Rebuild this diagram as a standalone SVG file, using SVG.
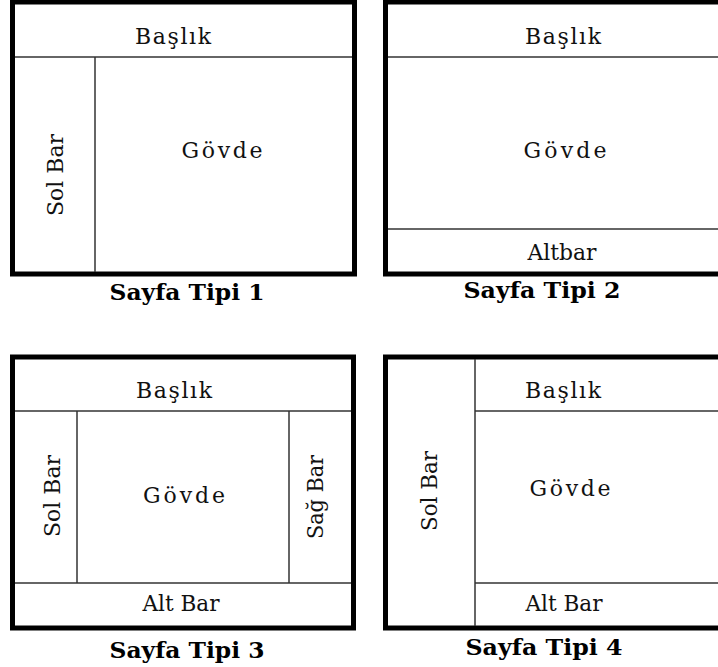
<svg xmlns="http://www.w3.org/2000/svg" width="718" height="667" viewBox="0 0 718 667">
<style>
.frame{fill:#fff;stroke:#000;stroke-width:5}
.div{stroke:#333;stroke-width:1.5;fill:none}
.t{font-family:"DejaVu Serif","Liberation Serif",serif;font-size:22px;fill:#111;text-anchor:middle}
.cap{font-family:"DejaVu Serif","Liberation Serif",serif;font-size:22px;font-weight:bold;fill:#000;text-anchor:middle}
</style>
<rect width="718" height="667" fill="#fff"/>
<g id="panel1">
<rect class="frame" x="12.5" y="2" width="342" height="272"/>
<line class="div" x1="15" y1="57" x2="352" y2="57"/>
<line class="div" x1="95" y1="57" x2="95" y2="272"/>
<text class="t" x="173" y="44" textLength="76" lengthAdjust="spacing">Başlık</text>
<text class="t" x="222" y="158" textLength="81" lengthAdjust="spacing">Gövde</text>
<text class="t" transform="translate(63,175) rotate(-90)" x="0" y="0" textLength="82" lengthAdjust="spacingAndGlyphs">Sol Bar</text>
<text class="cap" x="187" y="300" textLength="155" lengthAdjust="spacingAndGlyphs">Sayfa Tipi 1</text>
</g>
<g id="panel2">
<rect class="frame" x="385.5" y="2" width="340" height="272"/>
<line class="div" x1="388" y1="57" x2="718" y2="57"/>
<line class="div" x1="388" y1="229" x2="718" y2="229"/>
<text class="t" x="563" y="44" textLength="76" lengthAdjust="spacing">Başlık</text>
<text class="t" x="565" y="158" textLength="83" lengthAdjust="spacing">Gövde</text>
<text class="t" x="562" y="260" textLength="69" lengthAdjust="spacingAndGlyphs">Altbar</text>
<text class="cap" x="542" y="298" textLength="157" lengthAdjust="spacingAndGlyphs">Sayfa Tipi 2</text>
</g>
<g id="panel3">
<rect class="frame" x="12.5" y="357" width="341" height="271"/>
<line class="div" x1="15" y1="411" x2="351" y2="411"/>
<line class="div" x1="15" y1="583" x2="351" y2="583"/>
<line class="div" x1="77" y1="411" x2="77" y2="583"/>
<line class="div" x1="289" y1="411" x2="289" y2="583"/>
<text class="t" x="174" y="398" textLength="76" lengthAdjust="spacing">Başlık</text>
<text class="t" x="184" y="503" textLength="82" lengthAdjust="spacing">Gövde</text>
<text class="t" transform="translate(60,496) rotate(-90)" x="0" y="0" textLength="82" lengthAdjust="spacingAndGlyphs">Sol Bar</text>
<text class="t" transform="translate(323,497) rotate(-90)" x="0" y="0" textLength="84" lengthAdjust="spacingAndGlyphs">Sağ Bar</text>
<text class="t" x="181" y="611" textLength="77" lengthAdjust="spacingAndGlyphs">Alt Bar</text>
<text class="cap" x="187" y="658" textLength="155" lengthAdjust="spacingAndGlyphs">Sayfa Tipi 3</text>
</g>
<g id="panel4">
<rect class="frame" x="385.5" y="357" width="340" height="271"/>
<line class="div" x1="475" y1="359" x2="475" y2="626"/>
<line class="div" x1="475" y1="411" x2="718" y2="411"/>
<line class="div" x1="475" y1="583" x2="718" y2="583"/>
<text class="t" x="563" y="398" textLength="76" lengthAdjust="spacing">Başlık</text>
<text class="t" x="570" y="496" textLength="81" lengthAdjust="spacing">Gövde</text>
<text class="t" transform="translate(437,491) rotate(-90)" x="0" y="0" textLength="80" lengthAdjust="spacingAndGlyphs">Sol Bar</text>
<text class="t" x="564" y="611" textLength="77" lengthAdjust="spacingAndGlyphs">Alt Bar</text>
<text class="cap" x="544" y="655" textLength="157" lengthAdjust="spacingAndGlyphs">Sayfa Tipi 4</text>
</g>
<g id="connectors"/>
</svg>
